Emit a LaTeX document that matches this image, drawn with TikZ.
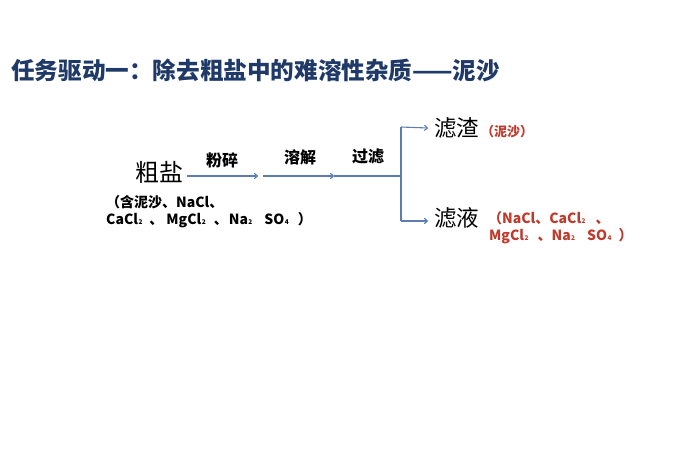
\documentclass[tikz,border=0pt]{standalone}
\usepackage{fontspec}
\setmainfont{Noto Sans CJK SC}
\newfontfamily\cjk{Noto Sans CJK SC}
\usetikzlibrary{arrows.meta}
\definecolor{titleblue}{HTML}{1F3A68}
\definecolor{arrowblue}{HTML}{5B7DB1}
\definecolor{noteRed}{HTML}{C0392B}
\newcommand{\sbs}[1]{\hspace{0.5pt}{\fontsize{6.5}{6.5}\selectfont #1}}
\tikzset{
  flow/.style={draw=arrowblue, line width=1.1pt},
  flowarrow/.style={flow, -{To[length=4pt,width=6pt]}},
  steplabel/.style={font=\cjk\bfseries\fontsize{16}{16}\selectfont, text=black, inner sep=0pt},
  bigword/.style={font=\cjk\fontsize{22.5}{22.5}\selectfont, text=black, inner sep=0pt},
  note/.style={font=\cjk\bfseries\fontsize{14}{16}\selectfont, inner sep=0pt, align=left},
}
\begin{document}
\begin{tikzpicture}[x=1pt,y=-1pt]
\useasboundingbox[fill=white] (0,0) rectangle (700,461);
\node[anchor=west, inner sep=0pt, text=titleblue, font=\cjk\bfseries\fontsize{23.6}{24}\selectfont] (title) at (11,70) {任务驱动一：除去粗盐中的难溶性杂质——泥沙};
\node[bigword, font=\cjk\fontsize{24}{24}\selectfont] (crude) at (159,172) {粗盐};
\node[note, anchor=west] (crudenote1) at (106,202) {（含泥沙、NaCl、};
\node[note, anchor=west] (crudenote2) at (106,220) {CaCl\sbs{2}\hspace{7pt}、\hspace{3pt}MgCl\sbs{2}\hspace{8pt}、\hspace{1pt}Na\sbs{2}\hspace{12pt}SO\sbs{4}\hspace{9pt}）};
\coordinate (p1) at (187,176);
\coordinate (p2) at (258,176);
\coordinate (p3) at (263,176);
\coordinate (p4) at (334,176);
\coordinate (fork) at (401,176);
\coordinate (top) at (401,127);
\coordinate (bot) at (401,221);
\node[steplabel] (s1) at (222,160) {粉碎};
\node[steplabel] (s2) at (300,157) {溶解};
\node[steplabel] (s3) at (368,157) {过滤};
\node[bigword, anchor=west] (res) at (434,128) {滤渣};
\node[bigword, anchor=west] (fil) at (434,218) {滤液};
\node[note, text=noteRed, font=\cjk\bfseries\fontsize{13}{13}\selectfont, anchor=west] (resnote) at (481,132) {（泥沙）};
\node[note, text=noteRed, anchor=west] (filnote1) at (488,218) {（NaCl、CaCl\sbs{2}\hspace{10pt}、};
\node[note, text=noteRed, anchor=west] (filnote2) at (489,236) {MgCl\sbs{2}\hspace{9pt}、Na\sbs{2}\hspace{12pt}SO\sbs{4}\hspace{7pt}）};
\draw[flowarrow] (p1) -- (p2);
\draw[flowarrow] (p3) -- (p4);
\draw[flow] (p4) -- (fork);
\draw[flow] (top) -- (bot);
\draw[flowarrow] (top) -- ([xshift=-6pt]res.west);
\draw[flowarrow] (bot) -- ([xshift=-6pt]fil.west |- bot);
\end{tikzpicture}
\end{document}
